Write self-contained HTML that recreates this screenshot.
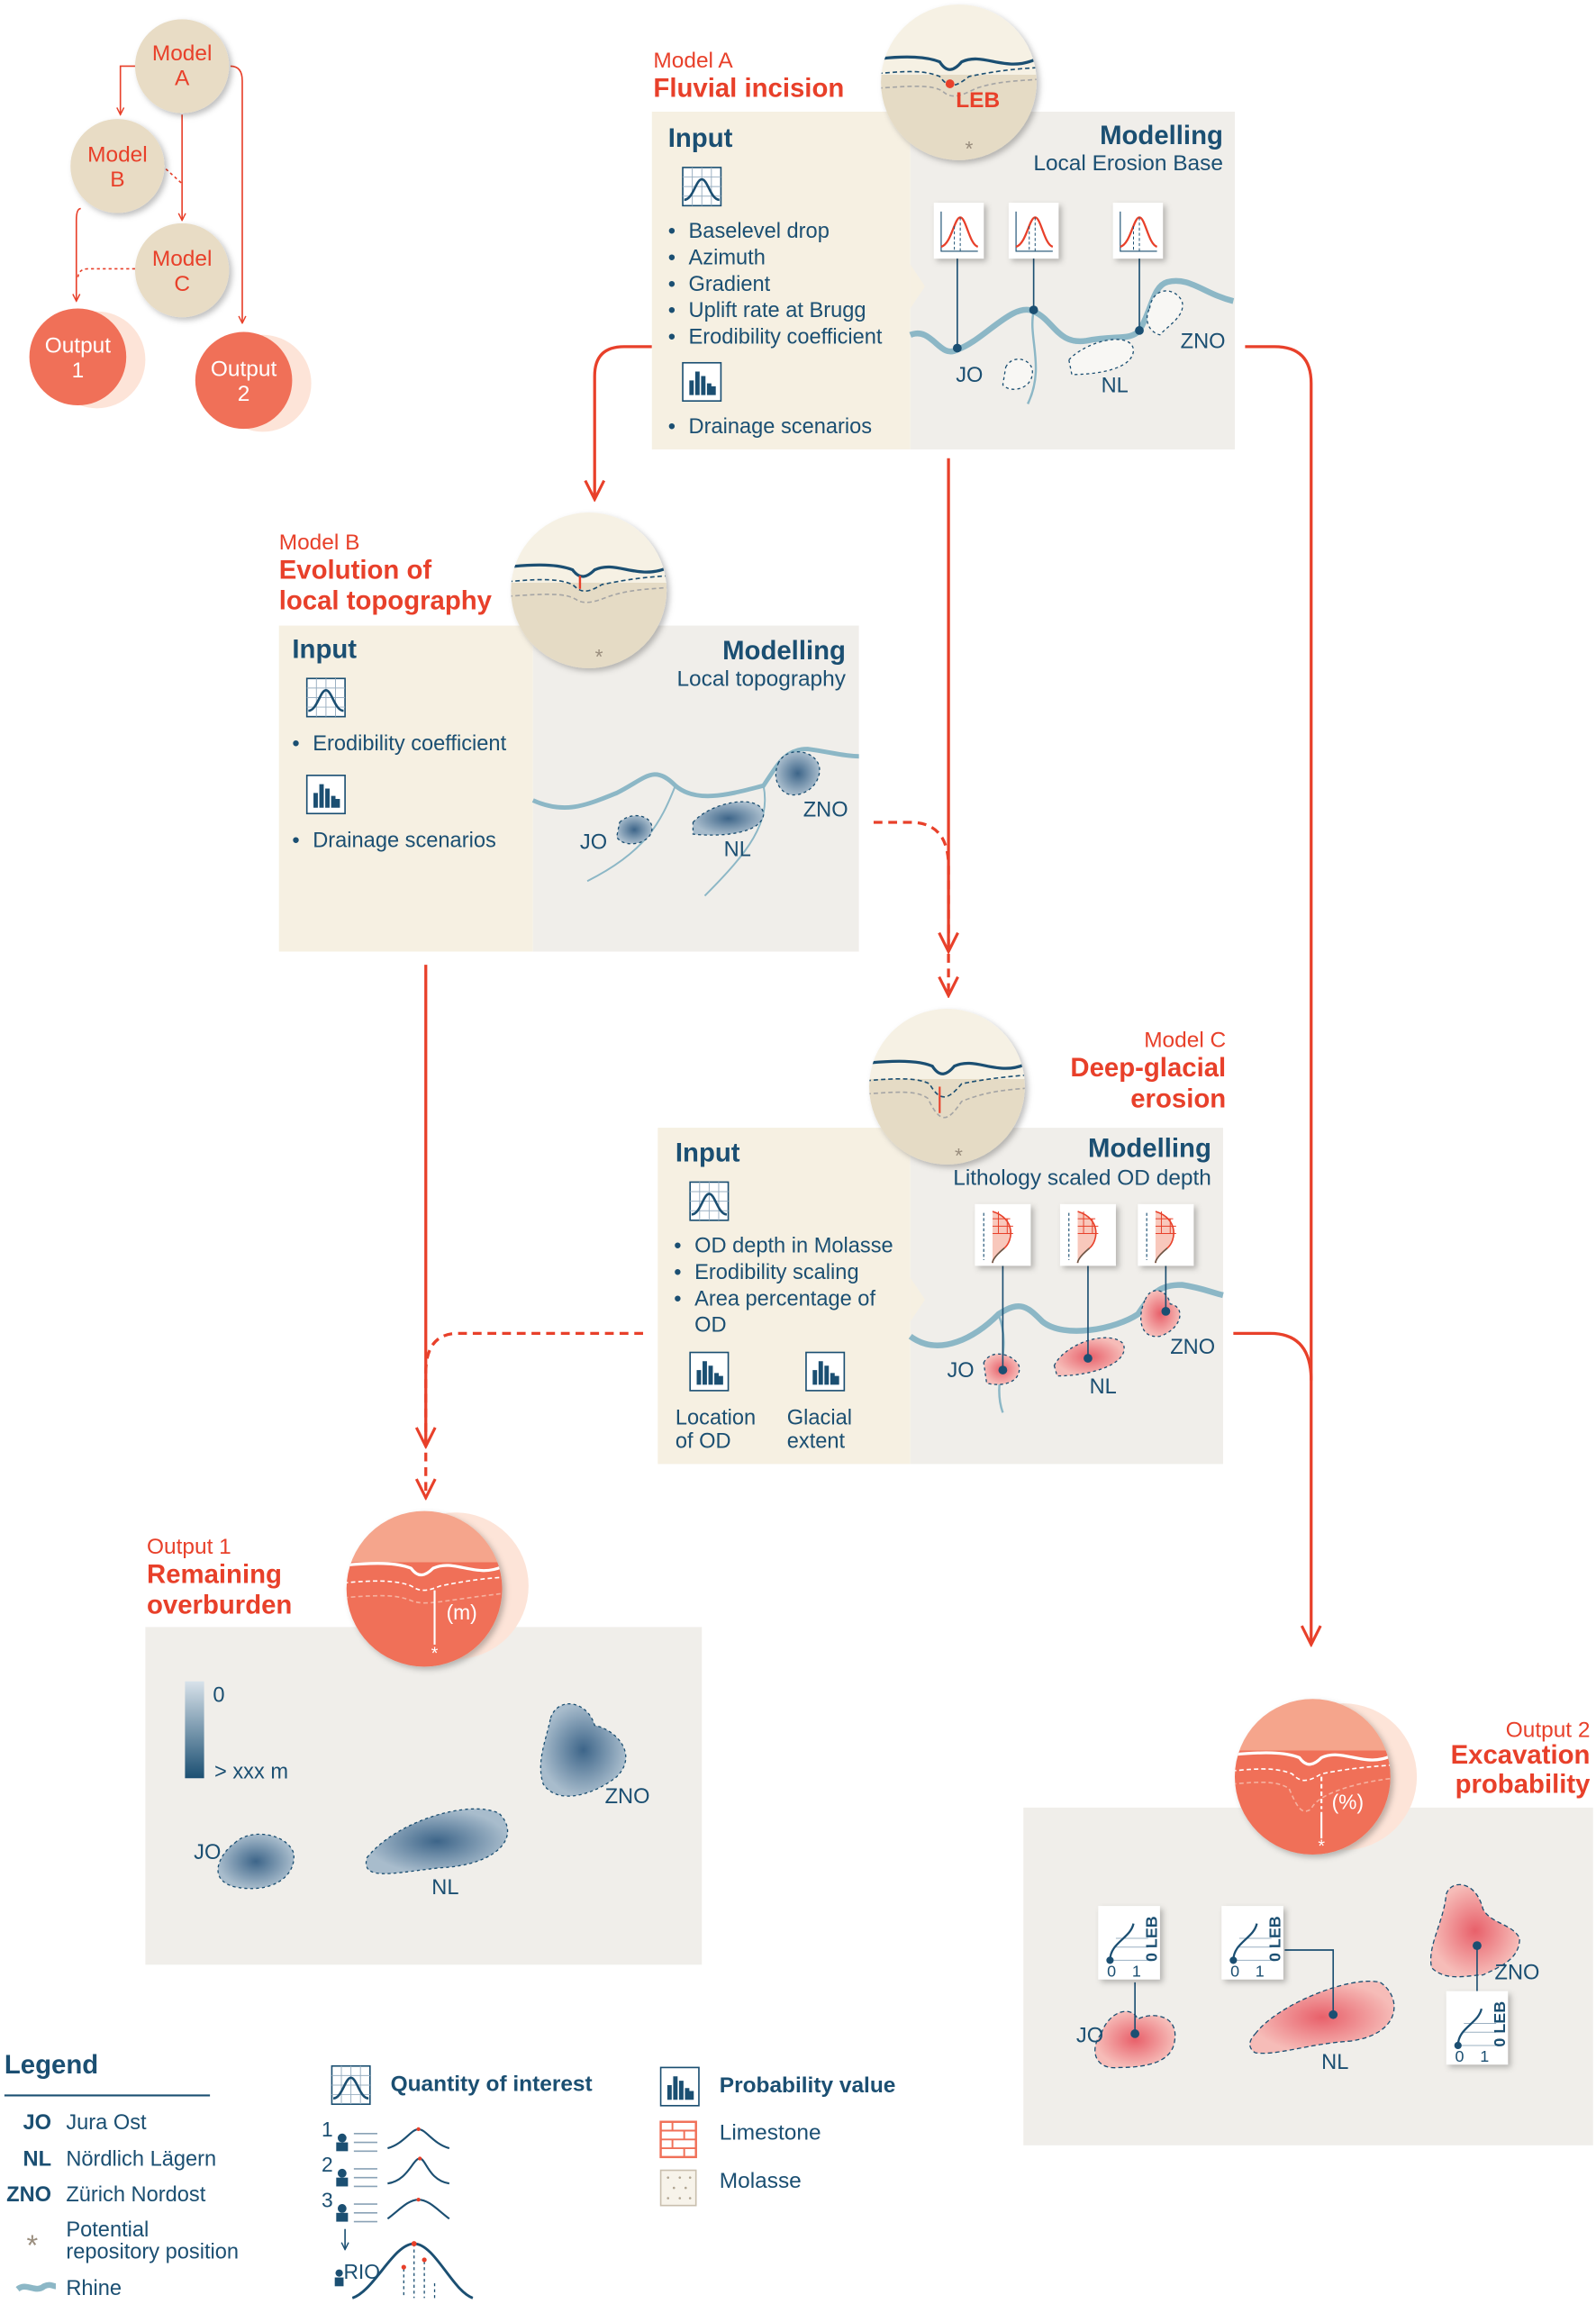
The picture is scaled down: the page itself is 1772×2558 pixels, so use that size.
<!DOCTYPE html>
<html><head><meta charset="utf-8"><style>
html,body{margin:0;padding:0;background:#fff}
svg{display:block}
text{font-family:"Liberation Sans Narrow","Liberation Sans",sans-serif}
.r{fill:#e8402a}.b{fill:#1b4f72}
.t15{font-size:15px}.t14{font-size:14.5px}
.h{font-size:18px;font-weight:bold}
</style></head><body>
<svg width="1772" height="2558" viewBox="0 0 1087 1569" xmlns="http://www.w3.org/2000/svg">
<defs>
<marker id="ar" viewBox="0 0 10 10" refX="9" refY="5" markerWidth="6" markerHeight="6" orient="auto"><path d="M1,1 L9,5 L1,9" fill="none" stroke="#e8402a" stroke-width="1.5"/></marker>
<marker id="arn" viewBox="0 0 10 10" refX="9" refY="5" markerWidth="6" markerHeight="6" orient="auto"><path d="M1,1 L9,5 L1,9" fill="none" stroke="#1b4f72" stroke-width="1.5"/></marker>
<marker id="ars" viewBox="0 0 10 10" refX="9" refY="5" markerWidth="8" markerHeight="8" orient="auto"><path d="M1,1 L9,5 L1,9" fill="none" stroke="#e8402a" stroke-width="1.2"/></marker>
<filter id="sh" x="-20%" y="-20%" width="150%" height="150%"><feDropShadow dx="2" dy="2" stdDeviation="2" flood-color="#000" flood-opacity="0.25"/></filter>
<linearGradient id="cg" x1="0" y1="0" x2="0" y2="1"><stop offset="0.45" stop-color="#f6f1e4"/><stop offset="0.45" stop-color="#e5dbc5"/></linearGradient>
<linearGradient id="og" x1="0" y1="0" x2="0" y2="1"><stop offset="0.33" stop-color="#f5a58c"/><stop offset="0.33" stop-color="#f07058"/></linearGradient>
<linearGradient id="bg1" x1="0" y1="0" x2="0" y2="1"><stop offset="0" stop-color="#d8e2ea"/><stop offset="1" stop-color="#1b4f72"/></linearGradient>
<radialGradient id="bl"><stop offset="0" stop-color="#3d6589"/><stop offset="1" stop-color="#a8bccc"/></radialGradient>
<radialGradient id="rd"><stop offset="0" stop-color="#e8606a"/><stop offset="1" stop-color="#f6bcb8"/></radialGradient>
<g id="qi"><rect x="0" y="0" width="26" height="26" fill="#fff" stroke="#1b4f72" stroke-width="1"/><path d="M6.5,0V26M13,0V26M19.5,0V26M0,6.5H26M0,13H26M0,19.5H26" stroke="#9bb0c2" stroke-width="0.6"/><path d="M1,22 C7,22 9,8 13,8 C17,8 19,22 25,22" fill="none" stroke="#1b4f72" stroke-width="1.6"/></g>
<g id="pv"><rect x="0" y="0" width="26" height="26" fill="#fff" stroke="#1b4f72" stroke-width="1"/><path d="M6,22V12M10,22V6M14,22V9M18,22V14M21,22V16" stroke="#1b4f72" stroke-width="3"/></g>
<g id="card"><rect x="0" y="0" width="34" height="38" fill="#fff" filter="url(#sh)"/><path d="M5,6V33H30" stroke="#1b4f72" stroke-width="0.7" fill="none"/><path d="M5,30 C12,28 14,10 18,10 C22,10 24,28 30,30" fill="none" stroke="#e8402a" stroke-width="1.4"/><path d="M18,10V33M14,16V33" stroke="#1b4f72" stroke-width="0.6" stroke-dasharray="2,1.5"/></g>
<g id="lcard"><rect x="0" y="0" width="38" height="42" fill="#fff" filter="url(#sh)"/><path d="M6,6V38" stroke="#1b4f72" stroke-width="0.7" stroke-dasharray="2,1.5"/><path d="M12,5 C28,10 26,25 20,30 C14,35 12,38 12,40" fill="#f8c8bc" stroke="#e8402a" stroke-width="1"/><path d="M12,10H24M12,15H26M12,20H26M16,5V20M22,10V20" stroke="#e8402a" stroke-width="0.6"/><path d="M20,30 C14,35 12,38 12,40" stroke="#6b5a4a" fill="none" stroke-width="1"/></g>
<g id="ocard"><rect x="0" y="0" width="42" height="50" fill="#fff" filter="url(#sh)"/><path d="M8,37H34M12,28H34M12,22H34" stroke="#9bb0c2" stroke-width="0.6"/><path d="M8,37 C8,25 22,22 24,12" fill="none" stroke="#1b4f72" stroke-width="1.4"/><circle cx="8" cy="37" r="2.5" fill="#1b4f72"/><text x="6" y="48" class="b" font-size="11">0</text><text x="23" y="48" class="b" font-size="11">1</text><text transform="translate(40,38) rotate(-90)" class="b" font-size="11" font-weight="bold">0   LEB</text></g>
<clipPath id="c1"><circle cx="653" cy="56" r="53"/></clipPath>
<clipPath id="c2"><circle cx="401" cy="402" r="53"/></clipPath>
<clipPath id="c3"><circle cx="645" cy="740" r="53"/></clipPath>
<clipPath id="c4"><circle cx="289" cy="1082" r="53"/></clipPath>
<clipPath id="c5"><circle cx="894" cy="1210" r="53"/></clipPath>
</defs>

<!-- mini diagram -->
<g stroke="#e8402a" stroke-width="1" fill="none">
<path d="M92,45 H82 V78" marker-end="url(#ar)"/>
<path d="M124,78 V150" marker-end="url(#ar)"/>
<path d="M157,45 Q165,45 165,55 V220" marker-end="url(#ar)"/>
<path d="M55,142 Q52,142 52,150 V205" marker-end="url(#ar)"/>
<path d="M113,115 L124,125" stroke-dasharray="2,2"/>
<path d="M92,183 H60 Q53,183 53,190" stroke-dasharray="2,2"/>
</g>
<g filter="url(#sh)" fill="#e8dcc5">
<circle cx="124" cy="45" r="32"/><circle cx="80" cy="113" r="32"/><circle cx="124" cy="184" r="32"/>
</g>
<circle cx="66" cy="245" r="33" fill="#fde4d8"/><circle cx="53" cy="243" r="33" fill="#f07058"/>
<circle cx="179" cy="261" r="33" fill="#fde4d8"/><circle cx="166" cy="259" r="33" fill="#f07058"/>
<g class="r t15" text-anchor="middle">
<text x="124" y="41">Model</text><text x="124" y="58">A</text>
<text x="80" y="110">Model</text><text x="80" y="127">B</text>
<text x="124" y="181">Model</text><text x="124" y="198">C</text>
</g>
<g fill="#fff" class="t15" text-anchor="middle">
<text x="53" y="240">Output</text><text x="53" y="257">1</text>
<text x="166" y="256">Output</text><text x="166" y="273">2</text>
</g>

<!-- connectors -->
<g stroke="#e8402a" stroke-width="2" fill="none">
<path d="M444,236 H425 Q405,236 405,256 V340" marker-end="url(#ars)"/>
<path d="M848,236 H868 Q893,236 893,261 V1120" marker-end="url(#ars)"/>
<path d="M840,908 H865 Q893,908 893,940"/>
<path d="M646,312 V648" marker-end="url(#ars)"/>
<path d="M290,657 V985" marker-end="url(#ars)"/>
<path d="M595,560 H620 Q646,560 646,590 V678" stroke-dasharray="6,4" marker-end="url(#ars)"/>
<path d="M438,908 H312 Q290,908 290,935 V1020" stroke-dasharray="6,4" marker-end="url(#ars)"/>
</g>

<!-- MODEL A -->
<text x="445" y="46" class="r t15">Model A</text>
<text x="445" y="66" class="r h">Fluvial incision</text>
<rect x="444" y="76" width="176" height="230" fill="#f6f0e2"/>
<rect x="620" y="76" width="221" height="230" fill="#f0eeea"/>
<path d="M620,180 L630,195 L620,210Z" fill="#f6f0e2"/>
<text x="455" y="100" class="b h">Input</text>
<use href="#qi" x="465" y="114"/>
<g class="b t14">
<text x="455" y="162">•</text><text x="469" y="162">Baselevel drop</text>
<text x="455" y="180">•</text><text x="469" y="180">Azimuth</text>
<text x="455" y="198">•</text><text x="469" y="198">Gradient</text>
<text x="455" y="216">•</text><text x="469" y="216">Uplift rate at Brugg</text>
<text x="455" y="234">•</text><text x="469" y="234">Erodibility coefficient</text>
<text x="455" y="295">•</text><text x="469" y="295">Drainage scenarios</text>
</g>
<use href="#pv" x="465" y="247"/>
<text x="833" y="98" class="b h" text-anchor="end">Modelling</text>
<text x="833" y="116" class="b t15" text-anchor="end">Local Erosion Base</text>
<path d="M620,228 C635,222 640,245 652,238 C670,232 690,205 704,212 C718,218 720,235 740,232 C760,228 770,232 776,225 C785,210 785,195 795,192 C810,188 820,200 840,205" fill="none" stroke="#8cb7c6" stroke-width="4"/>
<path d="M704,212 C700,230 712,250 700,275" fill="none" stroke="#8cb7c6" stroke-width="1.5"/>
<g fill="#f8f7f4" stroke="#1b4f72" stroke-width="0.8" stroke-dasharray="2,2">
<path d="M685,250 C690,240 705,245 703,255 C702,265 688,268 683,262Z"/>
<path d="M728,245 C740,232 770,225 772,238 C772,252 745,255 730,255Z"/>
<path d="M783,210 C785,195 800,195 805,205 C808,215 795,222 790,228 C780,225 780,215 783,210Z"/>
</g>
<g stroke="#1b4f72" stroke-width="1"><path d="M652,176V237M704,176V211M776,176V225"/></g>
<g fill="#1b4f72"><circle cx="652" cy="237" r="3"/><circle cx="704" cy="211" r="3"/><circle cx="776" cy="225" r="3"/></g>
<use href="#card" x="636" y="138"/><use href="#card" x="687" y="138"/><use href="#card" x="758" y="138"/>
<g class="b t14"><text x="651" y="260">JO</text><text x="750" y="267">NL</text><text x="804" y="237">ZNO</text></g>
<circle cx="653" cy="56" r="53" fill="url(#cg)" filter="url(#sh)"/>
<g clip-path="url(#c1)" fill="none">
<path d="M598,40 C615,38 630,38 640,42 C645,50 650,48 655,42 C670,35 685,50 706,40" stroke="#1b4f72" stroke-width="2"/>
<path d="M598,50 C620,48 630,48 640,52 C646,60 650,60 660,52 C680,48 690,47 706,46" stroke="#1b4f72" stroke-width="1" stroke-dasharray="3,2"/>
<path d="M598,60 C625,58 635,58 642,62 C648,68 655,65 665,60 C680,55 695,55 706,54" stroke="#a5a5a5" stroke-width="1" stroke-dasharray="3,2"/>
</g>
<circle cx="647" cy="57" r="3" fill="#e8402a"/>
<text x="651" y="73" class="r" font-size="15" font-weight="bold">LEB</text>
<text x="660" y="106" fill="#9a8e7e" font-size="14" text-anchor="middle">*</text>

<!-- MODEL B -->
<text x="190" y="374" class="r t15">Model B</text>
<text x="190" y="394" class="r h">Evolution of</text>
<text x="190" y="415" class="r h">local topography</text>
<rect x="190" y="426" width="173" height="222" fill="#f6f0e2"/>
<rect x="363" y="426" width="222" height="222" fill="#f0eeea"/>
<text x="199" y="448" class="b h">Input</text>
<use href="#qi" x="209" y="462"/>
<use href="#pv" x="209" y="528"/>
<g class="b t14">
<text x="199" y="511">•</text><text x="213" y="511">Erodibility coefficient</text>
<text x="199" y="577">•</text><text x="213" y="577">Drainage scenarios</text>
</g>
<text x="576" y="449" class="b h" text-anchor="end">Modelling</text>
<text x="576" y="467" class="b t15" text-anchor="end">Local topography</text>
<path d="M363,545 C385,555 400,548 420,540 C440,530 445,520 460,535 C475,548 500,540 520,535 C530,520 535,510 550,510 C565,512 575,515 585,515" fill="none" stroke="#8cb7c6" stroke-width="3"/>
<path d="M460,535 C450,560 440,580 400,600M520,535 C525,560 510,580 480,610" fill="none" stroke="#8cb7c6" stroke-width="1.2"/>
<g fill="url(#bl)" stroke="#1b4f72" stroke-width="0.8" stroke-dasharray="2,2">
<path d="M422,560 C430,552 445,555 444,565 C443,575 425,578 420,570Z"/>
<path d="M472,560 C485,545 520,540 520,555 C518,568 490,570 472,568Z"/>
<path d="M530,520 C535,508 555,510 558,522 C560,535 545,545 535,540 C528,535 527,527 530,520Z"/>
</g>
<g class="b t14"><text x="395" y="578">JO</text><text x="493" y="583">NL</text><text x="547" y="556">ZNO</text></g>
<circle cx="401" cy="402" r="53" fill="url(#cg)" filter="url(#sh)"/>
<g clip-path="url(#c2)" fill="none">
<path d="M346,386 C365,384 380,384 390,388 C395,395 400,393 405,388 C420,381 435,396 456,386" stroke="#1b4f72" stroke-width="2"/>
<path d="M346,396 C370,394 380,394 390,398 C396,404 400,404 410,398 C430,394 440,393 456,392" stroke="#1b4f72" stroke-width="1" stroke-dasharray="3,2"/>
<path d="M346,406 C375,404 385,404 392,408 C398,412 405,410 415,406 C430,401 445,401 456,400" stroke="#a5a5a5" stroke-width="1" stroke-dasharray="3,2"/>
</g>
<path d="M395,392V401" stroke="#e8402a" stroke-width="1.5"/>
<text x="408" y="452" fill="#9a8e7e" font-size="14" text-anchor="middle">*</text>

<!-- MODEL C -->
<text x="835" y="713" class="r t15" text-anchor="end">Model C</text>
<text x="835" y="733" class="r h" text-anchor="end">Deep-glacial</text>
<text x="835" y="754" class="r h" text-anchor="end">erosion</text>
<rect x="448" y="768" width="172" height="229" fill="#f6f0e2"/>
<rect x="620" y="768" width="213" height="229" fill="#f0eeea"/>
<path d="M620,870 L630,885 L620,900Z" fill="#f6f0e2"/>
<text x="460" y="791" class="b h">Input</text>
<use href="#qi" x="470" y="805"/>
<g class="b t14">
<text x="459" y="853">•</text><text x="473" y="853">OD depth in Molasse</text>
<text x="459" y="871">•</text><text x="473" y="871">Erodibility scaling</text>
<text x="459" y="889">•</text><text x="473" y="889">Area percentage of</text>
<text x="473" y="907">OD</text>
<text x="460" y="970">Location</text><text x="460" y="986">of OD</text>
<text x="536" y="970">Glacial</text><text x="536" y="986">extent</text>
</g>
<use href="#pv" x="470" y="921"/><use href="#pv" x="549" y="921"/>
<text x="825" y="788" class="b h" text-anchor="end">Modelling</text>
<text x="825" y="807" class="b t15" text-anchor="end">Lithology scaled OD depth</text>
<path d="M620,910 C640,925 665,910 680,895 C695,885 700,890 710,900 C725,912 760,905 775,895 C785,880 790,875 805,875 C818,877 825,880 833,882" fill="none" stroke="#8cb7c6" stroke-width="4"/>
<path d="M680,895 C690,920 675,940 683,962" fill="none" stroke="#8cb7c6" stroke-width="1.5"/>
<g fill="url(#rd)" stroke="#1b4f72" stroke-width="0.8" stroke-dasharray="2,2">
<path d="M670,928 C675,918 690,922 694,930 C696,940 685,945 672,942Z"/>
<path d="M718,930 C725,915 755,905 765,915 C770,928 745,937 720,937Z"/>
<path d="M780,885 C784,875 795,878 797,888 C808,890 805,905 790,910 C775,912 775,895 780,885Z"/>
</g>
<g stroke="#1b4f72" stroke-width="1"><path d="M683,862V933M741,862V925M794,862V893"/></g>
<g fill="#1b4f72"><circle cx="683" cy="933" r="3"/><circle cx="741" cy="925" r="3"/><circle cx="794" cy="893" r="3"/></g>
<use href="#lcard" x="664" y="820"/><use href="#lcard" x="722" y="820"/><use href="#lcard" x="775" y="820"/>
<g class="b t14"><text x="645" y="938">JO</text><text x="742" y="949">NL</text><text x="797" y="922">ZNO</text></g>
<circle cx="645" cy="740" r="53" fill="url(#cg)" filter="url(#sh)"/>
<g clip-path="url(#c3)" fill="none">
<path d="M590,724 C610,722 625,722 635,726 C640,734 645,732 650,726 C665,719 680,734 700,724" stroke="#1b4f72" stroke-width="2"/>
<path d="M590,736 C612,734 625,734 633,738 C640,750 645,750 655,738 C675,734 690,733 700,732" stroke="#1b4f72" stroke-width="1" stroke-dasharray="3,2"/>
<path d="M590,745 C615,743 625,743 632,748 C640,765 645,765 655,750 C675,742 690,742 700,741" stroke="#a5a5a5" stroke-width="1" stroke-dasharray="3,2"/>
</g>
<path d="M640,740V758" stroke="#e8402a" stroke-width="1.3"/>
<text x="653" y="792" fill="#9a8e7e" font-size="14" text-anchor="middle">*</text>

<!-- OUTPUT 1 -->
<text x="100" y="1058" class="r t15">Output 1</text>
<text x="100" y="1078" class="r h">Remaining</text>
<text x="100" y="1099" class="r h">overburden</text>
<rect x="99" y="1108" width="379" height="230" fill="#f0eeea"/>
<rect x="126" y="1145" width="13" height="66" fill="url(#bg1)"/>
<g class="b t14"><text x="145" y="1159">0</text><text x="146" y="1211">&gt; xxx m</text>
<text x="132" y="1266">JO</text><text x="294" y="1290">NL</text><text x="412" y="1228">ZNO</text></g>
<g fill="url(#bl)" stroke="#1b4f72" stroke-width="0.8" stroke-dasharray="2,2">
<path d="M160,1255 C170,1245 195,1248 200,1262 C202,1278 185,1290 160,1285 C140,1280 150,1262 160,1255Z"/>
<path d="M250,1265 C270,1240 320,1225 340,1235 C355,1250 340,1270 300,1272 C270,1275 245,1282 250,1265Z"/>
<path d="M375,1170 C380,1155 400,1158 405,1175 C420,1178 435,1195 420,1210 C405,1222 380,1230 370,1215 C365,1200 372,1185 375,1170Z"/>
</g>
<circle cx="310" cy="1080" r="50" fill="#fde4d8"/>
<circle cx="289" cy="1082" r="53" fill="url(#og)" filter="url(#sh)"/>
<g clip-path="url(#c4)" fill="none">
<path d="M234,1066 C255,1064 270,1064 280,1068 C285,1075 290,1073 295,1068 C310,1061 325,1076 344,1066" stroke="#fff" stroke-width="2"/>
<path d="M234,1078 C255,1076 270,1076 280,1080 C286,1084 290,1084 300,1080 C320,1076 330,1075 344,1074" stroke="#fff" stroke-width="1" stroke-dasharray="3,2"/>
<path d="M234,1088 C260,1086 270,1086 280,1090 C290,1094 300,1090 344,1085" stroke="#f5b09e" stroke-width="1" stroke-dasharray="3,2"/>
</g>
<path d="M296,1083V1120" stroke="#fff" stroke-width="1.3"/>
<text x="296" y="1130" fill="#fff" font-size="12" text-anchor="middle">*</text>
<text x="304" y="1103" fill="#fff" font-size="14">(m)</text>

<!-- OUTPUT 2 -->
<text x="1083" y="1183" class="r t15" text-anchor="end">Output 2</text>
<text x="1083" y="1201" class="r h" text-anchor="end">Excavation</text>
<text x="1083" y="1221" class="r h" text-anchor="end">probability</text>
<rect x="697" y="1231" width="388" height="230" fill="#f0eeea"/>
<g fill="url(#rd)" stroke="#1b4f72" stroke-width="0.8" stroke-dasharray="3,2">
<path d="M750,1385 C755,1370 770,1365 775,1375 C785,1370 803,1372 800,1390 C798,1405 780,1408 762,1408 C745,1410 742,1395 750,1385Z"/>
<path d="M855,1385 C870,1365 920,1345 940,1350 C955,1360 955,1385 920,1390 C890,1392 870,1400 855,1398 C850,1395 850,1390 855,1385Z"/>
<path d="M985,1290 C988,1280 1005,1280 1010,1300 C1015,1310 1030,1310 1035,1320 C1035,1335 1020,1340 1010,1345 C1000,1345 985,1350 975,1340 C972,1325 983,1310 985,1290Z"/>
</g>
<g stroke="#1b4f72" stroke-width="1" fill="none"><path d="M773,1350V1385M875,1328H908V1372M1006,1325V1356"/></g>
<g fill="#1b4f72"><circle cx="773" cy="1385" r="3"/><circle cx="908" cy="1372" r="3"/><circle cx="1006" cy="1325" r="3"/></g>
<use href="#ocard" x="748" y="1298"/><use href="#ocard" x="832" y="1298"/><use href="#ocard" x="985" y="1356"/>
<g class="b t14"><text x="733" y="1391">JO</text><text x="900" y="1409">NL</text><text x="1018" y="1348">ZNO</text></g>
<circle cx="915" cy="1210" r="50" fill="#fde4d8"/>
<circle cx="894" cy="1210" r="53" fill="url(#og)" filter="url(#sh)"/>
<g clip-path="url(#c5)" fill="none">
<path d="M839,1195 C860,1193 875,1193 885,1197 C890,1204 895,1202 900,1197 C915,1190 930,1205 949,1195" stroke="#fff" stroke-width="2"/>
<path d="M839,1206 C860,1204 870,1204 880,1208 C886,1214 890,1214 900,1208 C920,1204 935,1203 949,1202" stroke="#fff" stroke-width="1" stroke-dasharray="3,2"/>
<path d="M839,1215 C860,1213 870,1213 878,1218 C885,1235 888,1235 893,1232 C898,1220 930,1213 949,1211" stroke="#f5b09e" stroke-width="1" stroke-dasharray="3,2"/>
</g>
<path d="M900,1210V1232" stroke="#fff" stroke-width="1.3" stroke-dasharray="3,2"/>
<path d="M900,1234V1252" stroke="#fff" stroke-width="1.3"/>
<text x="900" y="1261" fill="#fff" font-size="12" text-anchor="middle">*</text>
<text x="907" y="1232" fill="#fff" font-size="14">(%)</text>

<!-- LEGEND -->
<text x="3" y="1412" class="b h">Legend</text>
<path d="M3,1427H143" stroke="#1b4f72" stroke-width="1.3"/>
<g class="b t14">
<text x="35" y="1450" text-anchor="end" font-weight="bold">JO</text><text x="45" y="1450">Jura Ost</text>
<text x="35" y="1475" text-anchor="end" font-weight="bold">NL</text><text x="45" y="1475">Nördlich Lägern</text>
<text x="35" y="1499" text-anchor="end" font-weight="bold">ZNO</text><text x="45" y="1499">Zürich Nordost</text>
<text x="45" y="1523">Potential</text><text x="45" y="1538">repository position</text>
<text x="45" y="1563">Rhine</text>
</g>
<text x="22" y="1536" fill="#9a8e7e" font-size="20" text-anchor="middle">*</text>
<path d="M12,1559 C18,1554 24,1562 30,1557 C34,1555 36,1557 38,1557" stroke="#8cb7c6" stroke-width="4" fill="none"/>
<use href="#qi" x="226" y="1407"/>
<text x="266" y="1424" class="b" font-size="15" font-weight="bold">Quantity of interest</text>
<g class="b" font-size="14">
<text x="219" y="1455">1</text><text x="219" y="1479">2</text><text x="219" y="1503">3</text>
<text x="234" y="1552">RIO</text>
</g>
<g fill="#1b4f72">
<circle cx="233" cy="1456" r="3"/><rect x="229" y="1459" width="8" height="6"/>
<circle cx="233" cy="1480" r="3"/><rect x="229" y="1483" width="8" height="6"/>
<circle cx="233" cy="1504" r="3"/><rect x="229" y="1507" width="8" height="6"/>
<circle cx="231" cy="1548" r="2.5"/><rect x="228" y="1551" width="6" height="6"/>
</g>
<g stroke="#8aa2b6" stroke-width="1"><path d="M241,1453H257M241,1459H257M241,1465H257M241,1477H257M241,1483H257M241,1489H257M241,1501H257M241,1507H257M241,1513H257"/></g>
<g fill="none" stroke="#1b4f72" stroke-width="1.3">
<path d="M264,1463 C275,1460 280,1450 285,1450 C290,1450 295,1460 306,1463"/>
<path d="M264,1487 C278,1485 281,1470 286,1470 C290,1470 292,1485 306,1487"/>
<path d="M264,1511 C272,1505 278,1498 285,1498 C292,1498 298,1505 306,1511"/>
<path d="M240,1565 C255,1560 268,1528 282,1528 C296,1528 308,1560 322,1565" stroke-width="1.8"/>
<path d="M282,1528V1565M289,1540V1565M275,1545V1565M296,1555V1565" stroke-width="0.8" stroke-dasharray="2,2"/>
</g>
<g fill="#e8402a"><circle cx="285" cy="1450" r="1.3"/><circle cx="286" cy="1470" r="1.3"/><circle cx="285" cy="1498" r="1.3"/><circle cx="282" cy="1528" r="1.8"/><circle cx="289" cy="1539" r="1.6"/><circle cx="275" cy="1544" r="1.6"/></g>
<path d="M235,1518V1532" stroke="#1b4f72" stroke-width="1" marker-end="url(#arn)"/>
<use href="#pv" x="450" y="1408"/>
<text x="490" y="1425" class="b" font-size="15" font-weight="bold">Probability value</text>
<rect x="450" y="1445" width="24" height="24" fill="#fff" stroke="#f07058" stroke-width="1.5"/>
<path d="M450,1451H474M450,1457H474M450,1463H474M458,1445V1451M466,1451V1457M458,1457V1463M466,1463V1469" stroke="#f07058" stroke-width="1.2"/>
<text x="490" y="1457" class="b t15">Limestone</text>
<rect x="450" y="1478" width="24" height="24" fill="#f7f3ea" stroke="#c9bfae" stroke-width="1"/>
<g fill="#b0a592"><circle cx="455" cy="1483" r="0.8"/><circle cx="463" cy="1483" r="0.8"/><circle cx="470" cy="1483" r="0.8"/><circle cx="459" cy="1490" r="0.8"/><circle cx="467" cy="1490" r="0.8"/><circle cx="455" cy="1497" r="0.8"/><circle cx="463" cy="1497" r="0.8"/><circle cx="470" cy="1497" r="0.8"/></g>
<text x="490" y="1490" class="b t15">Molasse</text>
</svg>
</body></html>
